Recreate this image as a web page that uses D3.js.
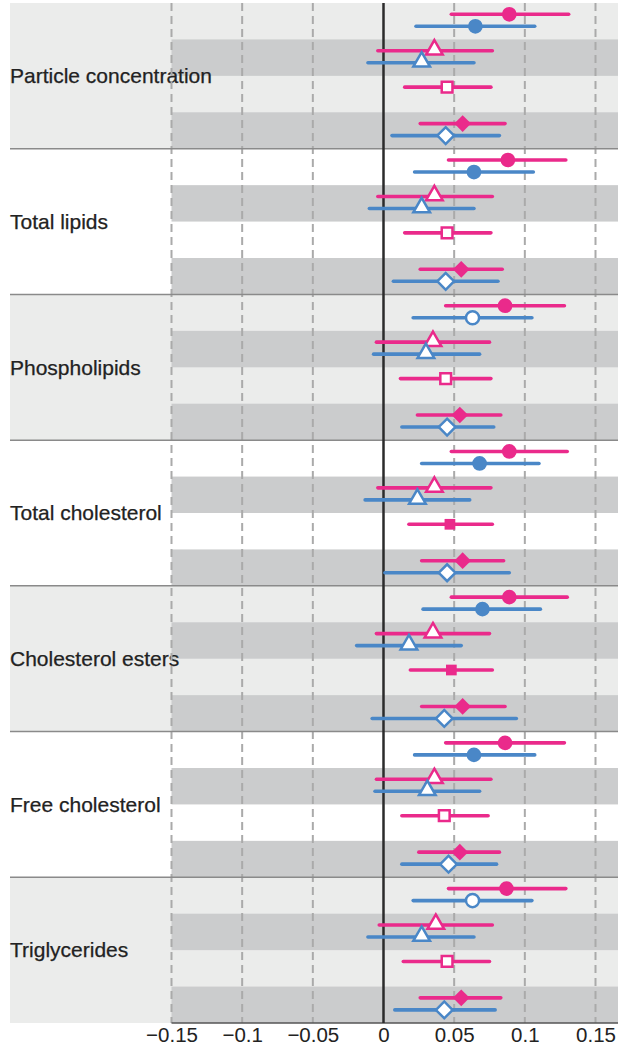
<!DOCTYPE html>
<html>
<head>
<meta charset="utf-8">
<script src="https://cdn.jsdelivr.net/npm/d3@7"></script>
<style>
  body { margin: 0; background: #fff; }
  text { font-family: "Liberation Sans", Arial, Helvetica, sans-serif; fill: #222; }
</style>
</head>
<body>
<div id="chart"></div>
<script>
var groups = ["Particle concentration", "Total lipids", "Phospholipids", "Total cholesterol",
  "Cholesterol esters", "Free cholesterol", "Triglycerides"];

var shapes = ["circle", "triangle", "square", "diamond"];

// pink series, one row per group: circle, triangle, square, diamond
var pinkEst = [
  [0.089, 0.036, 0.045, 0.056],
  [0.088, 0.036, 0.045, 0.055],
  [0.086, 0.035, 0.044, 0.054],
  [0.089, 0.036, 0.047, 0.056],
  [0.089, 0.035, 0.048, 0.056],
  [0.086, 0.036, 0.043, 0.054],
  [0.087, 0.037, 0.045, 0.055]
];
var pinkLo = [
  [0.048, -0.004, 0.015, 0.026],
  [0.046, -0.004, 0.015, 0.026],
  [0.044, -0.005, 0.012, 0.024],
  [0.048, -0.004, 0.018, 0.027],
  [0.048, -0.005, 0.019, 0.027],
  [0.044, -0.005, 0.013, 0.025],
  [0.046, -0.003, 0.014, 0.026]
];
var pinkHi = [
  [0.131, 0.077, 0.076, 0.086],
  [0.129, 0.077, 0.076, 0.084],
  [0.128, 0.075, 0.076, 0.083],
  [0.130, 0.076, 0.077, 0.085],
  [0.130, 0.075, 0.077, 0.086],
  [0.128, 0.076, 0.074, 0.082],
  [0.129, 0.077, 0.075, 0.083]
];
// blue series has no square row (null)
var blueEst = [
  [0.065, 0.027, null, 0.044],
  [0.064, 0.027, null, 0.044],
  [0.063, 0.030, null, 0.045],
  [0.068, 0.024, null, 0.045],
  [0.070, 0.018, null, 0.043],
  [0.064, 0.031, null, 0.046],
  [0.063, 0.027, null, 0.043]
];
var blueLo = [
  [0.023, -0.011, null, 0.006],
  [0.022, -0.010, null, 0.007],
  [0.021, -0.007, null, 0.013],
  [0.027, -0.013, null, 0.001],
  [0.028, -0.019, null, -0.008],
  [0.022, -0.006, null, 0.013],
  [0.021, -0.011, null, 0.008]
];
var blueHi = [
  [0.107, 0.064, null, 0.082],
  [0.106, 0.064, null, 0.081],
  [0.105, 0.068, null, 0.078],
  [0.110, 0.061, null, 0.089],
  [0.111, 0.055, null, 0.094],
  [0.107, 0.068, null, 0.080],
  [0.105, 0.064, null, 0.079]
];
// fill flags per shape row (true = solid, false = hollow)
var pinkFilled = [
  [true, false, false, true], [true, false, false, true], [true, false, false, true],
  [true, false, true, true], [true, false, true, true], [true, false, false, true],
  [true, false, false, true]
];
var blueFilled = [
  [true, false, null, false], [true, false, null, false], [false, false, null, false],
  [true, false, null, false], [true, false, null, false], [true, false, null, false],
  [false, false, null, false]
];

var ticks = [-0.15, -0.1, -0.05, 0, 0.05, 0.1, 0.15];

var W = 618, H = 1047;
var plotTop = 3, plotBottom = 1023, plotLeft = 10;
var pink = "#ea2a8b", blue = "#4a87c7";
var light = "#ebeceb", dark = "#cbcccd";

var svg = d3.select("#chart").append("svg")
  .attr("width", W).attr("height", H);

var x = d3.scaleLinear().domain([-0.15, 0.15]).range([171.5, 595.5]);

var gy = d3.scaleBand().domain(d3.range(groups.length)).range([plotTop, plotBottom]);
var ry = d3.scaleBand().domain(d3.range(shapes.length)).range([0, gy.bandwidth()]);
var sy = d3.scaleOrdinal().domain(["pink", "blue"])
  .range([ry.bandwidth() * 0.31, ry.bandwidth() * 0.64]);

// group backgrounds
var g = svg.selectAll("g.group").data(groups).enter().append("g")
  .attr("class", "group")
  .attr("transform", function(d, i) { return "translate(0," + gy(i) + ")"; });

g.append("rect")
  .attr("x", plotLeft).attr("width", W - plotLeft)
  .attr("height", gy.bandwidth())
  .style("fill", function(d, i) { return i % 2 === 0 ? light : "#fff"; });

g.selectAll("rect.band").data([1, 3]).enter().append("rect")
  .attr("class", "band")
  .attr("x", x(-0.15)).attr("width", W - x(-0.15))
  .attr("y", function(d) { return ry(d); })
  .attr("height", ry.bandwidth())
  .style("fill", dark);

// dashed grid
svg.selectAll("line.grid").data(ticks.filter(function(t) { return t !== 0; }))
  .enter().append("line")
  .attr("class", "grid")
  .attr("x1", function(d) { return x(d); }).attr("x2", function(d) { return x(d); })
  .attr("y1", plotTop).attr("y2", plotBottom)
  .style("stroke", "#aaaaaa").style("stroke-width", 2)
  .style("stroke-dasharray", "8,5");

// group separators
svg.selectAll("line.sep").data(d3.range(1, groups.length)).enter().append("line")
  .attr("class", "sep")
  .attr("x1", plotLeft).attr("x2", W)
  .attr("y1", function(d) { return gy(d); }).attr("y2", function(d) { return gy(d); })
  .style("stroke", "#8a8a8a").style("stroke-width", 1.5);

// bottom axis line
svg.append("line")
  .attr("x1", x(-0.15)).attr("x2", W)
  .attr("y1", plotBottom).attr("y2", plotBottom)
  .style("stroke", "#555").style("stroke-width", 1.5);

// zero line
svg.append("line")
  .attr("x1", x(0)).attr("x2", x(0))
  .attr("y1", plotTop).attr("y2", plotBottom)
  .style("stroke", "#2b2b2b").style("stroke-width", 2.5);

// group labels
g.append("text")
  .attr("x", plotLeft).attr("y", gy.bandwidth() / 2)
  .attr("dy", "0.35em")
  .style("font-size", "21px")
  .style("stroke", "#222").style("stroke-width", 0.25)
  .text(function(d) { return d; });

// points
var points = [];
groups.forEach(function(name, gi) {
  shapes.forEach(function(s, ri) {
    points.push({ g: gi, r: ri, shape: s, series: "pink", est: pinkEst[gi][ri],
      lo: pinkLo[gi][ri], hi: pinkHi[gi][ri], filled: pinkFilled[gi][ri] });
    if (blueEst[gi][ri] !== null) {
      points.push({ g: gi, r: ri, shape: s, series: "blue", est: blueEst[gi][ri],
        lo: blueLo[gi][ri], hi: blueHi[gi][ri], filled: blueFilled[gi][ri] });
    }
  });
});

function py(d) { return gy(d.g) + ry(d.r) + sy(d.series); }
function col(d) { return d.series === "pink" ? pink : blue; }

svg.selectAll("line.ci").data(points).enter().append("line")
  .attr("class", "ci")
  .attr("x1", function(d) { return x(d.lo); })
  .attr("x2", function(d) { return x(d.hi); })
  .attr("y1", py).attr("y2", py)
  .style("stroke", col).style("stroke-width", 3.6)
  .style("stroke-linecap", "round");

var sym = {
  circle: d3.symbol().type(d3.symbolCircle).size(170),
  triangle: d3.symbol().type(d3.symbolTriangle).size(120),
  square: d3.symbol().type(d3.symbolSquare).size(115),
  diamond: d3.symbol().type(d3.symbolSquare).size(140)
};

svg.selectAll("path.pt").data(points).enter().append("path")
  .attr("class", "pt")
  .attr("d", function(d) {
    if (!d.filled && d.shape === "circle") return d3.symbol().type(d3.symbolCircle).size(135)();
    return sym[d.shape]();
  })
  .attr("transform", function(d) {
    var t = "translate(" + x(d.est) + "," + py(d) + ")";
    if (d.shape === "diamond") t += " rotate(45)";
    if (d.shape === "triangle") t += " translate(0,-1)";
    return t;
  })
  .style("fill", function(d) { return d.filled ? col(d) : "#fff"; })
  .style("stroke", function(d) { return d.filled ? "none" : col(d); })
  .style("stroke-width", 2.5)
  .style("stroke-linejoin", "miter");

// x axis labels
var axis = d3.axisBottom(x).tickValues(ticks).tickSize(0).tickPadding(4.5)
  .tickFormat(function(d) { return d === 0 ? "0" : d3.format("")(d).replace("-", "\u2212"); });

var ax = svg.append("g").attr("transform", "translate(0," + plotBottom + ")").call(axis);
ax.select(".domain").remove();
ax.selectAll("text")
  .style("font-size", "20.5px")
  .style("font-family", "\"Liberation Sans\", Arial, sans-serif")
  .attr("fill", "#222");
</script>
</body>
</html>
